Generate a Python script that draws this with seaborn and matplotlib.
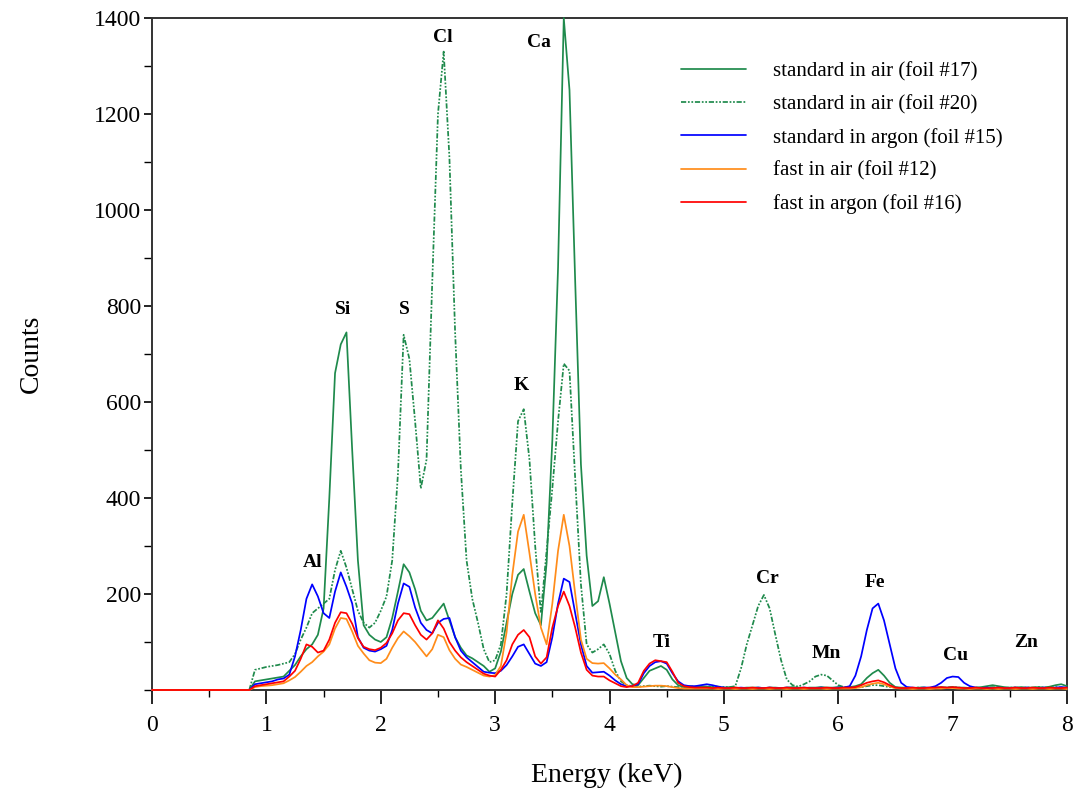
import numpy as np
import pandas as pd
import matplotlib
matplotlib.use("Agg")
import matplotlib.pyplot as plt
import seaborn as sns
from matplotlib.ticker import MultipleLocator

# energy channels (keV): zero line start, then 0.85 .. 8.00 in 0.05 steps
energy = np.concatenate([[0.0], np.round(np.arange(0.85, 8.0001, 0.05), 2)])

# counts, rows of 10 channels (0.85-1.30, 1.35-1.80, ...)
air_17 = [0,
    0, 18, 20, 22, 24, 26, 28, 40, 52, 70,
    85, 95, 115, 170, 400, 660, 720, 745, 500, 270,
    135, 115, 105, 100, 110, 150, 205, 262, 245, 210,
    165, 145, 150, 165, 180, 145, 110, 88, 72, 66,
    58, 50, 38, 45, 80, 140, 200, 240, 252, 205,
    160, 135, 265, 520, 880, 1400, 1250, 850, 470, 280,
    175, 185, 235, 180, 120, 60, 25, 12, 10, 25,
    40, 45, 50, 42, 22, 10, 6, 6, 7, 8,
    7, 6, 5, 5, 6, 5, 4, 5, 5, 5,
    4, 5, 5, 4, 5, 6, 5, 4, 5, 5,
    6, 5, 5, 6, 5, 6, 8, 12, 25, 35,
    42, 30, 15, 6, 5, 5, 4, 5, 5, 4,
    5, 6, 5, 6, 5, 5, 4, 5, 6, 8,
    10, 8, 6, 5, 5, 6, 5, 5, 6, 5,
    7, 10, 12, 8]

air_20 = [0,
    0, 42, 45, 48, 50, 52, 55, 58, 75, 105,
    130, 160, 170, 180, 190, 250, 290, 255, 210, 165,
    140, 130, 140, 165, 195, 270, 450, 740, 690, 560,
    420, 480, 850, 1200, 1330, 1110, 745, 460, 270, 190,
    140, 85, 58, 62, 95, 200, 390, 560, 585, 480,
    300, 160, 290, 420, 560, 680, 665, 440, 220, 95,
    78, 85, 95, 75, 40, 18, 10, 8, 7, 8,
    9, 8, 7, 8, 7, 6, 7, 8, 7, 6,
    7, 8, 7, 6, 6, 8, 45, 95, 135, 175,
    198, 170, 115, 62, 22, 10, 7, 12, 18, 28,
    32, 30, 20, 10, 6, 5, 5, 6, 8, 10,
    10, 8, 6, 5, 4, 5, 4, 5, 5, 4,
    5, 4, 5, 6, 5, 4, 5, 5, 4, 5,
    6, 5, 4, 5, 5, 4, 5, 5, 6, 5,
    5, 6, 5, 4]

argon_15 = [0,
    0, 12, 14, 16, 18, 22, 24, 32, 70, 125,
    190, 220, 195, 160, 150, 205, 245, 215, 180, 110,
    88, 82, 80, 85, 92, 125, 180, 222, 215, 172,
    140, 125, 118, 140, 148, 150, 110, 82, 68, 58,
    48, 38, 36, 35, 40, 52, 70, 90, 95, 75,
    55, 50, 58, 110, 180, 232, 225, 160, 95, 50,
    36, 37, 38, 30, 20, 12, 8, 8, 12, 35,
    50, 58, 60, 55, 35, 18, 10, 8, 8, 10,
    12, 10, 7, 5, 4, 4, 5, 4, 4, 5,
    4, 5, 4, 4, 5, 4, 4, 5, 4, 4,
    5, 4, 4, 5, 5, 8, 30, 70, 125, 170,
    180, 145, 95, 45, 15, 6, 5, 4, 5, 5,
    8, 15, 25, 28, 27, 15, 8, 5, 4, 5,
    4, 5, 4, 4, 5, 4, 5, 4, 4, 5,
    4, 5, 6, 5]

fast_air_12 = [0,
    0, 6, 8, 9, 10, 12, 14, 20, 27, 38,
    50, 58, 70, 80, 95, 128, 150, 148, 122, 92,
    76, 62, 57, 56, 65, 88, 108, 122, 112, 100,
    85, 70, 85, 115, 110, 83, 65, 53, 48, 42,
    36, 30, 28, 31, 50, 120, 240, 330, 365, 285,
    200, 130, 95, 180, 290, 365, 300, 200, 105, 65,
    56, 55, 56, 45, 32, 22, 10, 6, 6, 7,
    8, 9, 9, 8, 6, 4, 3, 3, 3, 3,
    3, 3, 2, 3, 3, 2, 3, 3, 2, 3,
    3, 2, 3, 3, 2, 3, 3, 2, 3, 3,
    3, 2, 3, 3, 3, 3, 4, 6, 10, 13,
    15, 12, 7, 4, 3, 3, 2, 3, 3, 2,
    3, 3, 4, 4, 3, 3, 2, 3, 3, 2,
    3, 2, 3, 3, 2, 3, 3, 2, 3, 3,
    2, 3, 3, 2]

fast_argon_16 = [0,
    0, 8, 10, 12, 14, 16, 18, 28, 40, 65,
    95, 90, 78, 82, 105, 140, 162, 160, 138, 108,
    90, 85, 83, 88, 98, 118, 145, 160, 158, 135,
    115, 105, 118, 145, 128, 100, 82, 68, 58, 50,
    42, 34, 30, 28, 42, 62, 95, 115, 125, 110,
    70, 55, 68, 130, 175, 205, 175, 130, 78, 42,
    30, 28, 28, 20, 14, 8, 6, 8, 15, 40,
    55, 62, 60, 58, 38, 15, 8, 6, 5, 5,
    5, 4, 5, 4, 4, 5, 4, 4, 5, 4,
    4, 5, 4, 4, 5, 4, 4, 5, 4, 4,
    4, 5, 4, 4, 5, 5, 6, 10, 15, 18,
    20, 16, 10, 5, 4, 4, 5, 4, 4, 5,
    5, 6, 5, 6, 5, 4, 4, 5, 4, 4,
    4, 5, 4, 4, 5, 4, 4, 5, 4, 4,
    5, 4, 4, 5]

labels = ["standard in air (foil #17)", "standard in air (foil #20)",
          "standard in argon (foil #15)", "fast in air (foil #12)",
          "fast in argon (foil #16)"]
colors = ["#1f8a4c", "#1f8a4c", "#0000ff", "#ff8c1a", "#ff0000"]
styles = ["-", (0, (3, 1, 1, 1, 1, 1)), "-", "-", "-"]

elements = ["Cl", "Ca", "Si", "S", "K", "Al", "Ti", "Cr", "Mn", "Fe", "Cu", "Zn"]
elem_x = [2.54, 3.38, 1.67, 2.21, 3.23, 1.40, 4.46, 5.38, 5.90, 6.32, 7.03, 7.64]
elem_y = [1360, 1350, 792, 792, 635, 265, 98, 233, 77, 223, 71, 98]

sns.set_style("white")
plt.rcParams['font.family'] = ['Liberation Serif', 'DejaVu Serif']
plt.rcParams.update({'text.color': 'black', 'axes.labelcolor': 'black',
                     'xtick.color': 'black', 'ytick.color': 'black'})

series = [air_17, air_20, argon_15, fast_air_12, fast_argon_16]
df = pd.concat([pd.DataFrame({'energy': energy, 'counts': s, 'series': lab})
                for s, lab in zip(series, labels)], ignore_index=True)

fig = plt.figure(figsize=(10.73, 7.93), dpi=100)
ax = fig.add_axes([0.1417, 0.1299, 0.8527, 0.8474])

for lab, col, ls in zip(labels, colors, styles):
    sub = df[df['series'] == lab]
    sns.lineplot(data=sub, x='energy', y='counts', ax=ax, color=col,
                 linestyle=ls, linewidth=1.25, label=lab, clip_on=False,
                 estimator=None, zorder=3)

ax.set_xlim(0, 8)
ax.set_ylim(0, 1400)
ax.xaxis.set_major_locator(MultipleLocator(1))
ax.xaxis.set_minor_locator(MultipleLocator(0.5))
ax.yaxis.set_minor_locator(MultipleLocator(100))
ax.set_yticks([200, 400, 600, 800, 1000, 1200, 1400])
ax.tick_params(axis='x', which='major', direction='out', length=10, width=1.2,
               labelsize=17, pad=8, bottom=True, top=False)
ax.tick_params(axis='x', which='minor', direction='out', length=5, width=1.0,
               bottom=True, top=False)
ax.tick_params(axis='y', which='major', direction='out', length=6, width=1.2,
               labelsize=17, pad=2, left=True, right=False)
ax.tick_params(axis='y', which='minor', direction='out', length=6, width=1.0,
               left=True, right=False)

for sp in ax.spines.values():
    sp.set_color('#333333')
    sp.set_linewidth(1.4)

ax.set_xlabel("Energy (keV)", fontsize=20)
ax.set_ylabel("Counts", fontsize=20)
ax.xaxis.set_label_coords(0.497, -0.108)
ax.yaxis.set_label_coords(-0.118, 0.5)

for name, x, y in zip(elements, elem_x, elem_y):
    ax.text(x, y, name, fontsize=14, fontweight='bold', ha='center', va='center')

ax.legend(loc='upper left', bbox_to_anchor=(0.558, 0.963), frameon=False,
          fontsize=15, handlelength=3.1, handletextpad=1.3, labelspacing=0.65)

fig.savefig("out.png", dpi=100)
